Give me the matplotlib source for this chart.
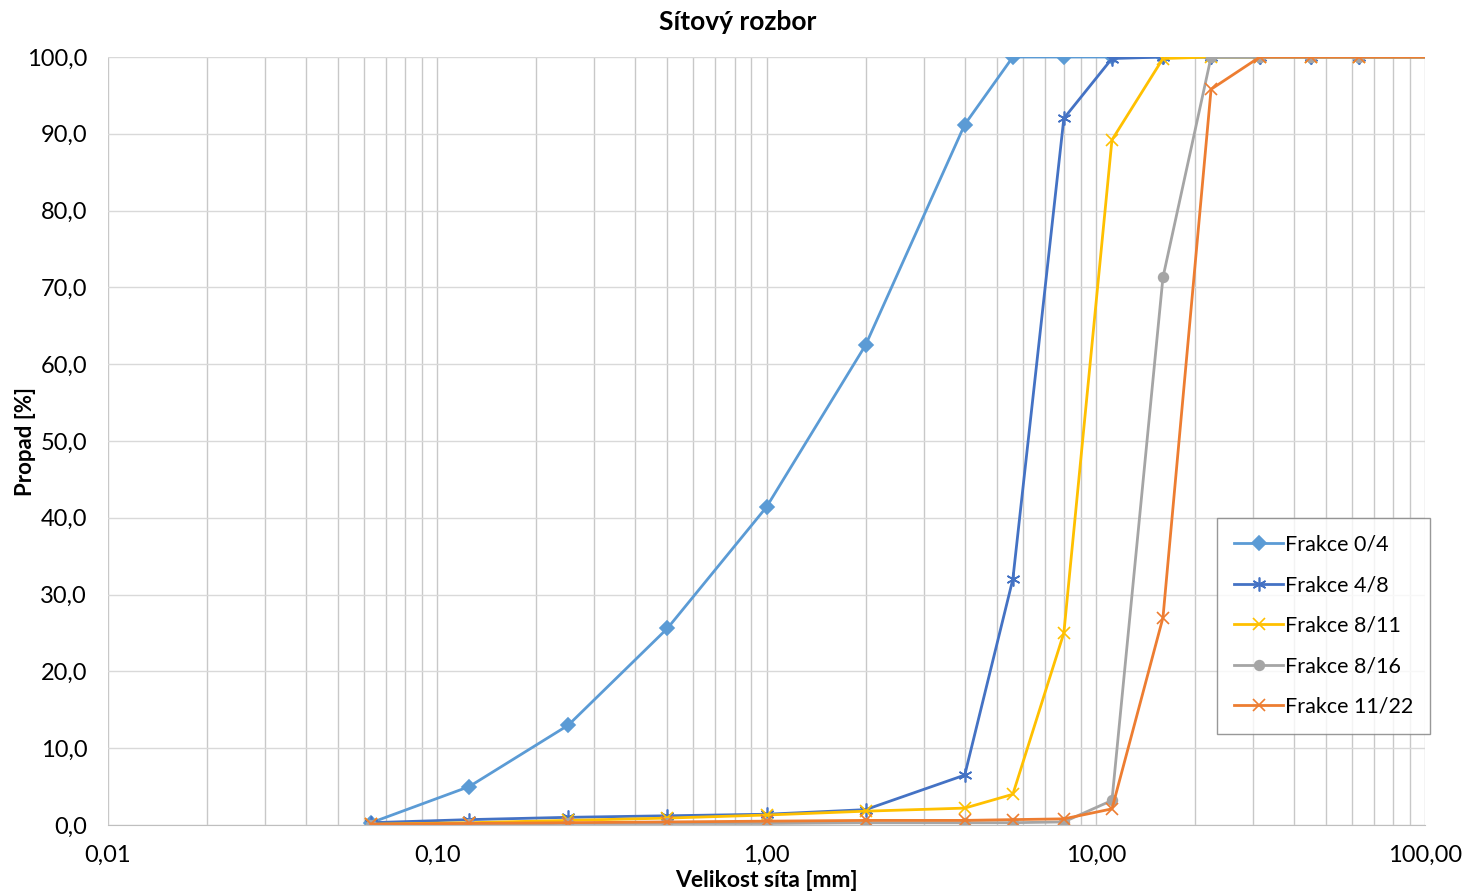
import numpy as np
import matplotlib
matplotlib.use("Agg")
import matplotlib.pyplot as plt
from matplotlib.ticker import FuncFormatter, LogLocator, NullFormatter

plt.rcParams['font.family'] = ['Lato', 'DejaVu Sans']

# sieve sizes [mm]; last point lies past the axis edge
sieves = [0.063, 0.125, 0.25, 0.5, 1.0, 2.0, 4.0, 5.6, 8.0, 11.2, 16.0, 22.4, 31.5, 45.0, 63.0, 125.0]

frakce_0_4 = [0.3, 5.0, 13.0, 25.6, 41.4, 62.5, 91.2, 100.0, 100.0, 100.0, 100.0, 100.0, 100.0, 100.0, 100.0, 100.0]
frakce_4_8 = [0.3, 0.7, 1.0, 1.2, 1.4, 2.0, 6.5, 32.0, 92.0, 99.8, 100.0, 100.0, 100.0, 100.0, 100.0, 100.0]
frakce_8_11 = [0.1, 0.3, 0.6, 0.9, 1.3, 1.8, 2.2, 4.0, 25.0, 89.2, 99.8, 100.0, 100.0, 100.0, 100.0, 100.0]
frakce_8_16 = [0.0, 0.1, 0.2, 0.2, 0.2, 0.3, 0.3, 0.3, 0.4, 3.2, 71.3, 100.0, 100.0, 100.0, 100.0, 100.0]
frakce_11_22 = [0.1, 0.2, 0.3, 0.4, 0.5, 0.6, 0.6, 0.7, 0.8, 2.1, 27.0, 95.8, 100.0, 100.0, 100.0, 100.0]

series = [
    ("Frakce 0/4", frakce_0_4, "#5b9bd5", "D", 7),
    ("Frakce 4/8", frakce_4_8, "#4472c4", (6, 2, 0), 10),
    ("Frakce 8/11", frakce_8_11, "#ffc000", "x", 9),
    ("Frakce 8/16", frakce_8_16, "#a5a5a5", "o", 7),
    ("Frakce 11/22", frakce_11_22, "#ed7d31", "x", 9),
]

fig = plt.figure(figsize=(14.65, 8.93), dpi=100)
ax = fig.add_axes([108 / 1465, 1 - 825 / 893, (1425 - 108) / 1465, (825 - 57) / 893])

for name, vals, col, mk, ms in series:
    ax.plot(sieves, vals, color=col, lw=2.0, marker=mk, markersize=ms,
            markeredgewidth=1.2, label=name)

ax.set_xscale('log')
ax.set_xlim(0.01, 100)
ax.set_ylim(0, 100)
ax.set_yticks(np.arange(0, 101, 10))

ax.xaxis.set_major_locator(LogLocator(base=10))
ax.xaxis.set_minor_locator(LogLocator(base=10, subs=np.arange(2, 10)))
ax.xaxis.set_minor_formatter(NullFormatter())
ax.xaxis.set_major_formatter(FuncFormatter(lambda v, p: f"{v:.2f}".replace('.', ',')))
ax.yaxis.set_major_formatter(FuncFormatter(lambda v, p: f"{v:.1f}".replace('.', ',')))

ax.grid(True, which='major', axis='y', color='#d9d9d9', lw=1.0)
ax.grid(True, which='both', axis='x', color='#c8c8c8', lw=1.0)
ax.set_axisbelow(True)

for s in ['top', 'right', 'left']:
    ax.spines[s].set_visible(False)
ax.spines['bottom'].set_color('#bfbfbf')
ax.tick_params(axis='both', which='both', length=0, labelsize=17, colors='#000000')
ax.tick_params(axis='x', pad=14)
ax.tick_params(axis='y', pad=15)

fig.text(738 / 1465, 1 - 22 / 893, "Sítový rozbor", fontsize=19, fontweight='bold',
         ha='center', va='center')
ax.set_xlabel("Velikost síta [mm]", fontsize=16.5, fontweight='bold', labelpad=3)
ax.set_ylabel("Propad [%]", fontsize=16, fontweight='bold', va='center')
ax.yaxis.set_label_coords((25 - 108) / 1317, 0.5)

leg = ax.legend(loc='lower right', bbox_to_anchor=(1430 / 1465, 1 - 734 / 893),
                bbox_transform=fig.transFigure, fontsize=15.5, frameon=True,
                fancybox=False, edgecolor='#7f7f7f', handlelength=2.3,
                labelspacing=0.95, borderpad=0.8, handletextpad=0.05,
                borderaxespad=0)
leg.get_frame().set_linewidth(1.0)

fig.savefig("out.png", dpi=100, facecolor='white')
